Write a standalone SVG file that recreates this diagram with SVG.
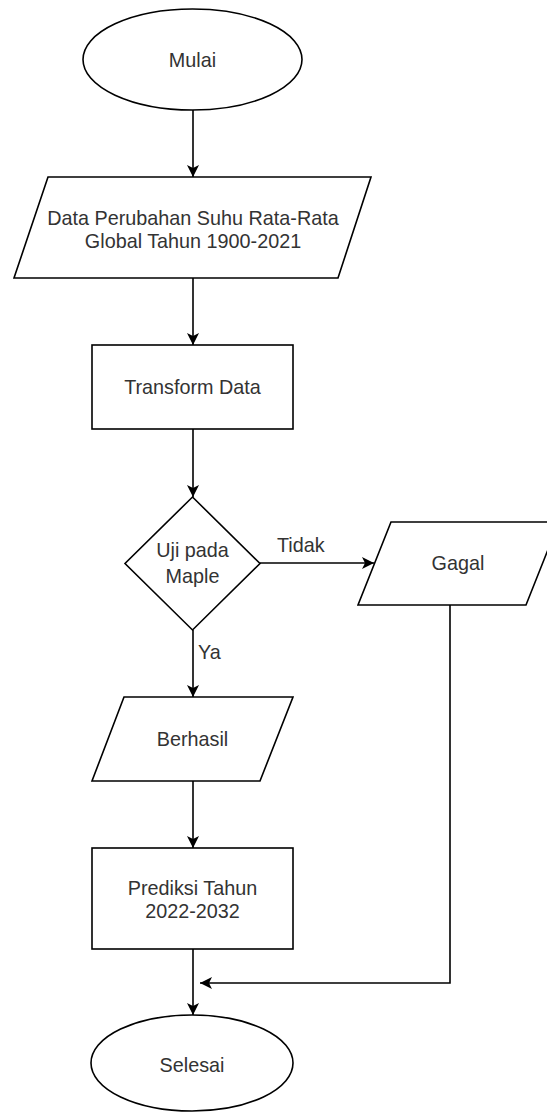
<svg xmlns="http://www.w3.org/2000/svg" width="547" height="1113" viewBox="0 0 547 1113">
<style>
.s{fill:#fff;stroke:#000;stroke-width:1.6}
.t{font-family:"Liberation Sans",Arial,sans-serif;font-size:19.8px;fill:#333;text-anchor:middle}
.e{fill:none;stroke:#000;stroke-width:1.6}
.l{font-family:"Liberation Sans",Arial,sans-serif;font-size:19.8px;fill:#333}
</style>
<defs>
<marker id="a" markerUnits="userSpaceOnUse" markerWidth="14" markerHeight="14" refX="12" refY="6" orient="auto">
<path d="M0,0 L12,6 L0,12 L3,6 Z" fill="#000"/>
</marker>
</defs>
<rect width="547" height="1113" fill="#fff"/>
<g id="edges">
<line class="e" x1="193" y1="110" x2="193" y2="177" marker-end="url(#a)"/>
<line class="e" x1="193" y1="278" x2="193" y2="345" marker-end="url(#a)"/>
<line class="e" x1="193" y1="429" x2="193" y2="497" marker-end="url(#a)"/>
<line class="e" x1="260" y1="563" x2="374" y2="563" marker-end="url(#a)"/>
<line class="e" x1="193" y1="630" x2="193" y2="697" marker-end="url(#a)"/>
<line class="e" x1="193" y1="781" x2="193" y2="848" marker-end="url(#a)"/>
<line class="e" x1="193" y1="949" x2="193" y2="1015" marker-end="url(#a)"/>
<polyline class="e" points="450,605 450,983 200,983" marker-end="url(#a)"/>
<text class="l" x="277" y="552">Tidak</text>
<text class="l" x="198" y="659">Ya</text>
</g>
<g id="mulai">
<ellipse class="s" cx="192.5" cy="59.5" rx="109.5" ry="50.5"/>
<text class="t" x="192.5" y="67">Mulai</text>
</g>
<g id="data">
<polygon class="s" points="48,177 371,177 338,278 14,278"/>
<text class="t" x="193" y="225">Data Perubahan Suhu Rata-Rata</text>
<text class="t" x="193" y="248">Global Tahun 1900-2021</text>
</g>
<g id="transform">
<rect class="s" x="92" y="345" width="201" height="84"/>
<text class="t" x="192.5" y="394">Transform Data</text>
</g>
<g id="uji">
<polygon class="s" points="192.5,497 260,563.5 192.5,630 125,563.5"/>
<text class="t" x="192.5" y="557">Uji pada</text>
<text class="t" x="192.5" y="583">Maple</text>
</g>
<g id="gagal">
<polygon class="s" points="391,522 559,522 526,605 358,605"/>
<text class="t" x="458" y="570">Gagal</text>
</g>
<g id="berhasil">
<polygon class="s" points="124,697 293,697 260,781 92,781"/>
<text class="t" x="192.5" y="746">Berhasil</text>
</g>
<g id="prediksi">
<rect class="s" x="92" y="848" width="201" height="101"/>
<text class="t" x="192.5" y="895">Prediksi Tahun</text>
<text class="t" x="192.5" y="918">2022-2032</text>
</g>
<g id="selesai">
<ellipse class="s" cx="192" cy="1063" rx="101" ry="48"/>
<text class="t" x="192" y="1072">Selesai</text>
</g>
</svg>
